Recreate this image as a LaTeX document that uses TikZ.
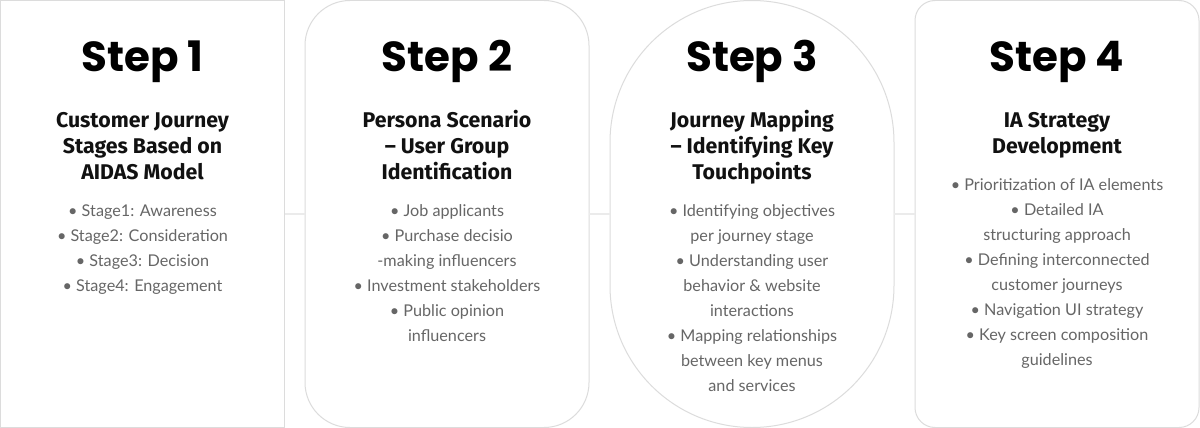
\documentclass[tikz,border=0pt]{standalone}
\usepackage{fontspec}
\setmainfont{Lato}
\newfontfamily\stepfont{Poppins}
\newfontfamily\subfont{Fira Sans}
\definecolor{panelgray}{HTML}{DCDCDC}
\definecolor{conngray}{HTML}{EBEBEB}
\definecolor{bodygray}{HTML}{666666}
\definecolor{subblack}{HTML}{111111}
\begin{document}
\begin{tikzpicture}[x=1pt,y=-1pt,
  panelline/.style={draw=panelgray, line width=1pt, fill=white},
  panel/.style={panelline, minimum width=284pt, minimum height=427pt, inner sep=0pt, outer sep=0pt},
  conn/.style={draw=conngray, line width=2pt},
  steptitle/.style={font=\stepfont\bfseries\fontsize{42}{50}\selectfont, anchor=base, inner sep=0pt},
  subtitle/.style={font=\subfont\bfseries\fontsize{21.3}{26}\selectfont, text=subblack, align=center, anchor=base, inner sep=0pt},
  bullets/.style={font=\fontsize{16.2}{25}\selectfont, text=bodygray, align=center, anchor=base, inner sep=0pt}]
\useasboundingbox (0,0) rectangle (1200,428);
\fill[white] (0,0) rectangle (1200,428);
% panels
\node[panel] (p1) at (142.5,214) {};
\node[panel, rounded corners=45pt] (p2) at (447,214) {};
\draw[panelline] (610,142.5) arc[start angle=180, end angle=360, radius=142] -- (894,285.5) arc[start angle=0, end angle=180, radius=142] -- cycle;
\node[minimum width=284pt, minimum height=427pt, inner sep=0pt, outer sep=0pt] (p3) at (752,214) {};
\node[panel, rounded corners=20pt] (p4) at (1057,214) {};
% connectors
\draw[conn] (p1.east) -- (p2.west);
\draw[conn] (p2.east) -- (p3.west);
\draw[conn] (p3.east) -- (p4.west);
% step titles
\node[steptitle] (t1) at (142.5,72) {Step 1};
\node[steptitle] (t2) at (447,72) {Step 2};
\node[steptitle] (t3) at (752,72) {Step 3};
\node[steptitle] (t4) at (1057,72) {Step 4};
% subtitles (anchor = baseline of last line)
\node[subtitle] (s1) at (142.5,179) {Customer Journey\\Stages Based on\\AIDAS Model};
\node[subtitle] (s2) at (447,179) {Persona Scenario\\– User Group\\Identification};
\node[subtitle] (s3) at (752,179) {Journey Mapping\\– Identifying Key\\Touchpoints};
\node[subtitle] (s4) at (1057,153) {IA Strategy\\Development};
% bullets (anchor = baseline of last line)
\node[bullets] (b1) at (142.5,291.5) {• Stage1: Awareness\\• Stage2: Consideration\\• Stage3: Decision\\• Stage4: Engagement};
\node[bullets] (b2) at (447,341.5) {• Job applicants\\• Purchase decisio\\-making influencers\\• Investment stakeholders\\• Public opinion\\influencers};
\node[bullets] (b3) at (752,391.5) {• Identifying objectives\\per journey stage\\• Understanding user\\behavior \& website\\interactions\\• Mapping relationships\\between key menus\\and services};
\node[bullets] (b4) at (1057,365.5) {• Prioritization of IA elements\\• Detailed IA\\structuring approach\\• Defining interconnected\\customer journeys\\• Navigation UI strategy\\• Key screen composition\\guidelines};
\end{tikzpicture}
\end{document}
